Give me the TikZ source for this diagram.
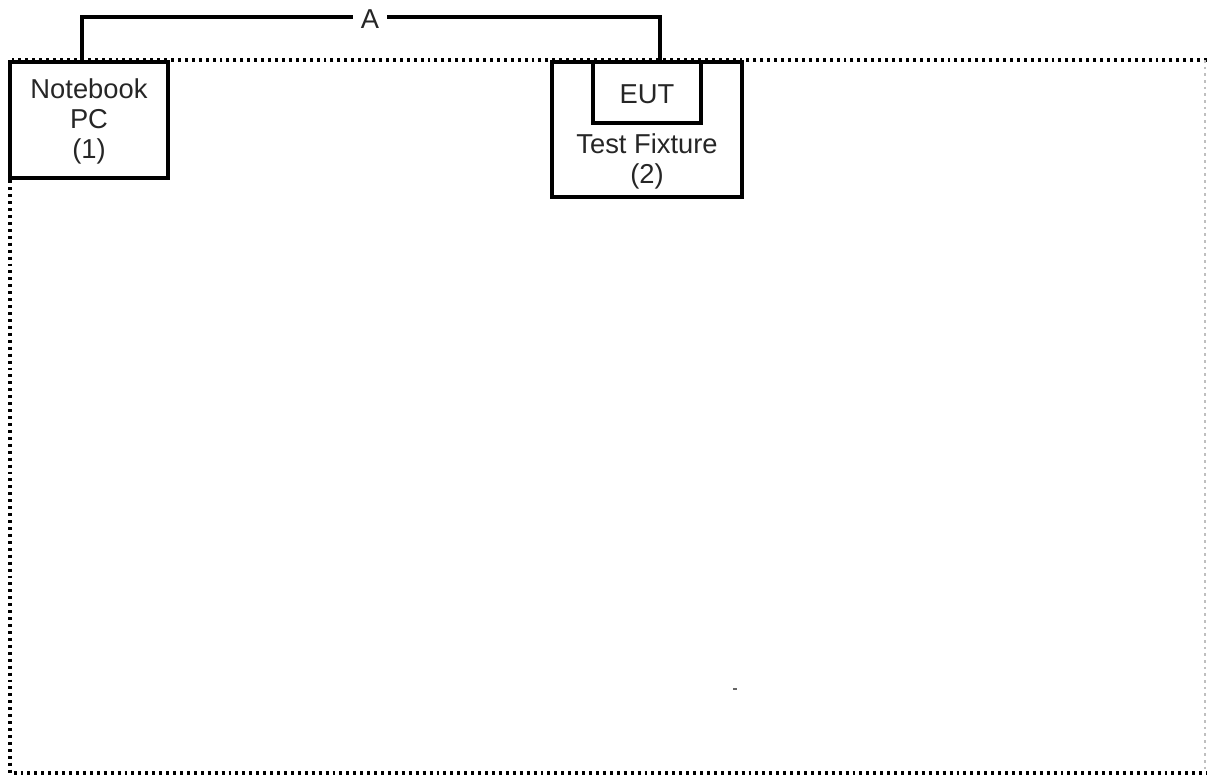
\documentclass[tikz,border=0pt]{standalone}
\usepackage{fontspec}
\setmainfont{Liberation Sans}
\begin{document}
\begin{tikzpicture}[x=0.75pt,y=-0.75pt,
  box/.style={draw=black,line width=2.5pt,rectangle,inner sep=0pt},
  lbl/.style={font=\fontsize{20.5}{22.5}\selectfont,align=center,inner sep=0pt,text=black!85},
  conn/.style={draw=black,line width=2.5pt},
  encl/.style={draw=black,line width=2.3pt,dash pattern=on 2.2pt off 3pt}]
\useasboundingbox (0,0) rectangle (1207,776);
% enclosure (test table)
\draw[encl] (1207,60) -- (10,60) -- (10,773) -- (1207,773);
\draw[draw=black!25,line width=1pt,dash pattern=on 2pt off 3pt] (1205,60) -- (1205,773);
% boxes
\node[box,minimum width=158*0.75pt,minimum height=116*0.75pt] (nb) at (89,120) {};
\node[lbl] (nbt) at (89,121) {Notebook\\PC\\(1)};
\node[box,minimum width=190*0.75pt,minimum height=135*0.75pt] (tf) at (647,129.5) {};
\node[box,minimum width=108*0.75pt,minimum height=61*0.75pt] (eut) at (647,92.5) {};
\node[lbl] (eutt) at (647,94) {EUT};
\node[lbl] (tft) at (647,161) {Test Fixture\\(2)};
% connector A
\coordinate (c1) at (82,17);
\coordinate (c2) at (660,17);
\draw[conn] (nb.north -| c1) -- (c1) -- (c2) -- (eut.north -| c2);
\node[lbl,fill=white,inner xsep=6pt,inner ysep=2pt] (A) at (370,19) {A};
% stray mark
\draw[black!60,line width=1pt] (733,689) -- (737,689);
\end{tikzpicture}
\end{document}
